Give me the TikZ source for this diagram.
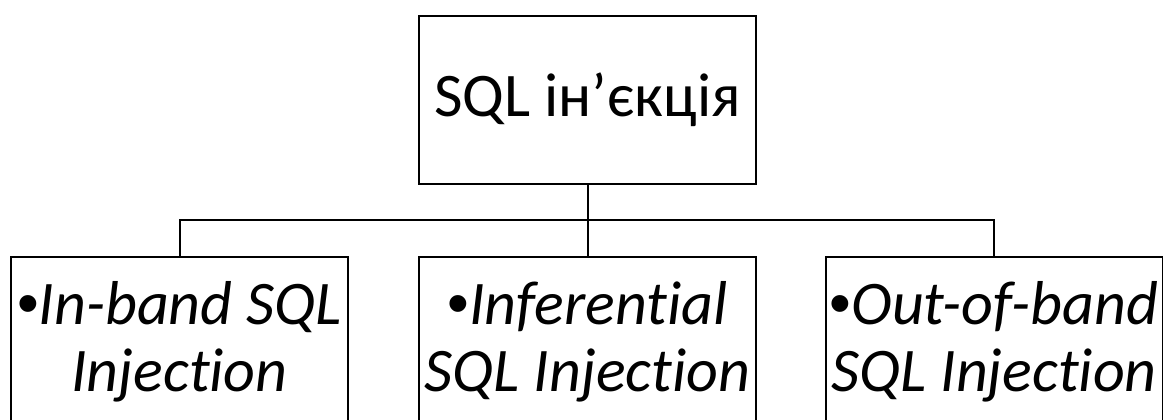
\documentclass[tikz,border=0pt]{standalone}
\usepackage{fontspec}
\setmainfont{Carlito}[Ligatures=NoCommon]
\newfontfamily\dotfont{Liberation Sans}
\newcommand\itembul{{\dotfont•}}
\begin{document}
\begin{tikzpicture}[x=1pt,y=-1pt,line width=2pt,
  box/.style={draw,inner sep=0pt,align=flush center},
  leaf/.style={box,anchor=north,text width=337pt,inner ysep=20.1pt,
    font=\fontsize{62}{67}\selectfont}]
\useasboundingbox(0,0)rectangle(1163,420);
\node[box,minimum width=337pt,minimum height=168pt,
  font=\fontsize{62}{67}\selectfont](sqli)at(587.5,100){SQL ін’єкція};
\node[leaf](inband)at(179.5,256){\strut\itembul\textit{In-band SQL}\\\textit{Injection}\strut};
\node[leaf](infer)at(587.5,256){\strut\itembul\textit{Inferential}\\\textit{SQL Injection}\strut};
\node[leaf](outband)at(994,256){\strut\itembul\textit{Out-of-band}\\\textit{SQL Injection}\strut};
\coordinate(bus)at(587.5,220);
\draw(sqli.south)--(bus)--(infer.north)
(inband.north)|-(bus)-|(outband.north);
\end{tikzpicture}
\end{document}
